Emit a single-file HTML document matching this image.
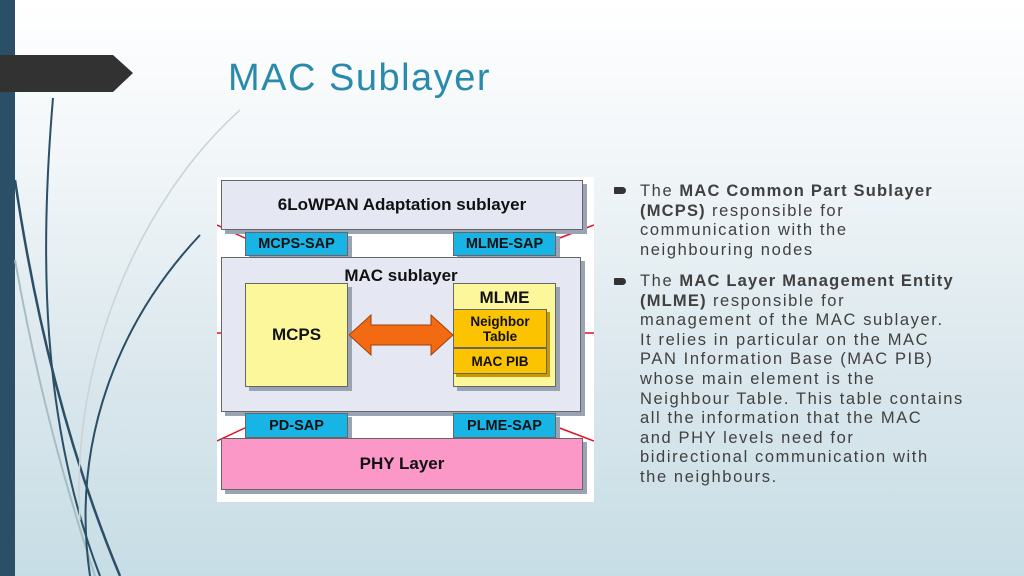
<!DOCTYPE html>
<html><head><meta charset="utf-8"><style>
*{margin:0;padding:0;box-sizing:border-box}
body{width:1024px;height:576px;overflow:hidden;position:relative;font-family:"Liberation Sans",sans-serif;background:linear-gradient(180deg,#ffffff 0%,#f3f7f9 25%,#dde9ee 60%,#c7dde5 100%)}
.a{position:absolute}
.box{position:absolute;border:1px solid #666;box-shadow:4px 4px 0 #9aa3b3;display:flex;align-items:center;justify-content:center;font-weight:bold;color:#111}
.sap{background:#18b4e6;font-size:14.5px}
.txt{position:absolute;left:640px;color:#404040;font-size:16.5px;line-height:19.6px;letter-spacing:1.6px;white-space:nowrap}
.txt b{letter-spacing:1.2px}
.bul{position:absolute;left:614px;width:12px;height:7px;background:#333;border-radius:1px 4px 4px 1px}
</style></head><body>
<div class="a" style="left:0;top:0;width:15px;height:576px;background:#2b4f66"></div>
<svg class="a" style="left:0;top:0" width="260" height="576">
<polygon points="0,55 113,55 133,73 113,92 0,92" fill="#323232"/>
<path d="M53,98 C40,250 40,420 100,576" stroke="#2b4f66" stroke-width="2" fill="none"/>
<path d="M15,180 C40,350 80,480 120,576" stroke="#2b4f66" stroke-width="2.5" fill="none"/>
<path d="M15,260 C40,400 70,500 95,576" stroke="#a8bcc6" stroke-width="2" fill="none"/>
<path d="M200,235 C120,320 70,440 90,576" stroke="#2b4f66" stroke-width="2" fill="none"/>
<path d="M240,110 C140,200 70,360 80,520" stroke="#c8d2d8" stroke-width="1.5" fill="none"/>
</svg>
<div class="a" style="left:228px;top:57px;font-size:38px;letter-spacing:1.5px;color:#2a8aab">MAC Sublayer</div>

<div class="a" style="left:217px;top:177px;width:377px;height:325px;background:#fff"></div>
<svg class="a" style="left:217px;top:177px" width="377" height="325">
<g stroke="#e01020" stroke-width="1.5">
<line x1="0" y1="48" x2="30" y2="62"/><line x1="377" y1="48" x2="340" y2="62"/>
<line x1="0" y1="156" x2="30" y2="156"/><line x1="377" y1="156" x2="340" y2="156"/>
<line x1="0" y1="264" x2="30" y2="250"/><line x1="377" y1="264" x2="340" y2="250"/>
</g></svg>
<div class="box" style="left:221px;top:180px;width:362px;height:50px;background:#e5e8f2;font-size:17px">6LoWPAN Adaptation sublayer</div>
<div class="box sap" style="left:245px;top:232px;width:103px;height:24px">MCPS-SAP</div>
<div class="box sap" style="left:453px;top:232px;width:103px;height:24px">MLME-SAP</div>
<div class="box" style="left:221px;top:257px;width:360px;height:155px;background:#e5e8f2;align-items:flex-start;padding-top:8px;font-size:17px">MAC sublayer</div>
<div class="box" style="left:245px;top:283px;width:103px;height:104px;background:#fbf79a;font-size:17px">MCPS</div>
<div class="box" style="left:453px;top:283px;width:103px;height:104px;background:#fbf79a;align-items:flex-start;font-size:17px;padding-top:4px">MLME</div>
<div class="box" style="left:453px;top:309px;width:94px;height:39px;background:#fcc400;font-size:13.5px;line-height:15px;text-align:center;box-shadow:3px 3px 0 #c99a00">Neighbor<br>Table</div>
<div class="box" style="left:453px;top:348px;width:94px;height:26px;background:#fcc400;font-size:13.5px;box-shadow:3px 3px 0 #c99a00">MAC PIB</div>
<svg class="a" style="left:349px;top:314px" width="105" height="42"><polygon points="0,21 22,1 22,11 82,11 82,1 104,21 82,41 82,31 22,31 22,41" fill="#f26a12" stroke="#a04008"/></svg>
<div class="box sap" style="left:245px;top:413px;width:103px;height:25px">PD-SAP</div>
<div class="box sap" style="left:453px;top:413px;width:103px;height:25px">PLME-SAP</div>
<div class="box" style="left:221px;top:438px;width:362px;height:52px;background:#fb98c8;font-size:17px">PHY Layer</div>

<div class="bul" style="top:187px"></div>
<div class="txt" style="top:182px">The <b>MAC Common Part Sublayer</b><br><b>(MCPS)</b> responsible for<br>communication with the<br>neighbouring nodes</div>
<div class="bul" style="top:278px"></div>
<div class="txt" style="top:272px">The <b>MAC Layer Management Entity</b><br><b>(MLME)</b> responsible for<br>management of the MAC sublayer.<br>It relies in particular on the MAC<br>PAN Information Base (MAC PIB)<br>whose main element is the<br>Neighbour Table. This table contains<br>all the information that the MAC<br>and PHY levels need for<br>bidirectional communication with<br>the neighbours.</div>
</body></html>
